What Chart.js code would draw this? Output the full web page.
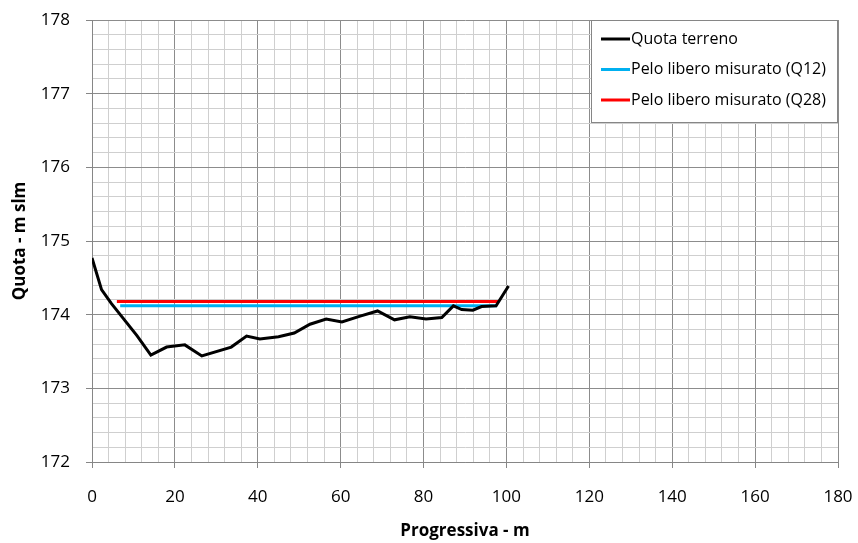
<!DOCTYPE html>
<html>
<head>
<meta charset="utf-8">
<script src="https://cdn.jsdelivr.net/npm/chart.js@4"></script>
<style>
html,body{margin:0;padding:0;background:#fff;}
#box{width:858px;height:543px;}
</style>
</head>
<body>
<div id="box"><canvas id="myChart"></canvas></div>
<script>
// sezione: progressiva (m) e quota terreno (m slm)
var progressiva = [0, 2.3, 4.7, 10.8, 14.2, 18.0, 22.4, 26.5, 33.6, 37.3, 40.5, 45.0, 48.8, 52.6, 56.5, 60.3, 64.7, 68.9, 73.0, 76.7, 80.6, 84.4, 87.2, 89.2, 91.9, 94.0, 97.5, 100.5];
var quota = [174.77, 174.34, 174.15, 173.72, 173.45, 173.56, 173.59, 173.44, 173.56, 173.71, 173.67, 173.70, 173.75, 173.87, 173.94, 173.90, 173.98, 174.05, 173.93, 173.97, 173.94, 173.96, 174.12, 174.07, 174.06, 174.11, 174.12, 174.39];

// pelo libero misurato: estremi e quota
var q12X = [6.8, 97.7];
var q12Y = [174.12, 174.12];
var q28X = [6.0, 98.0];
var q28Y = [174.18, 174.18];

var etichette = ['Quota terreno', 'Pelo libero misurato (Q12)', 'Pelo libero misurato (Q28)'];
var colori = ['#000000', '#00b0f0', '#ff0000'];

function punti(xs, ys){
    var out = [];
    for(var i=0;i<xs.length;i++){ out.push({x:xs[i], y:ys[i]}); }
    return out;
}

function isMultiple(v, step){
    var r = v/step;
    return Math.abs(r - Math.round(r)) < 1e-6;
}

var fontName = "'Open Sans', sans-serif";

// legenda con riquadro dentro l'area del grafico
var boxLegend = {
    id: 'boxLegend',
    afterDatasetsDraw: function(chart){
        var ctx = chart.ctx;
        var a = chart.chartArea;
        var w = 247, h = 102;
        var x0 = a.right - w, y0 = a.top;
        ctx.save();
        ctx.fillStyle = '#ffffff';
        ctx.fillRect(x0, y0, w, h);
        ctx.strokeStyle = '#868686';
        ctx.lineWidth = 1;
        ctx.strokeRect(x0 + 0.5, y0 + 0.5, w - 1, h);
        ctx.font = '16px ' + fontName;
        ctx.textBaseline = 'middle';
        ctx.fillStyle = '#000';
        for(var i=0;i<etichette.length;i++){
            var yy = y0 + 19 + i*30.5;
            ctx.strokeStyle = colori[i];
            ctx.lineWidth = 3;
            ctx.beginPath();
            ctx.moveTo(x0 + 10, yy);
            ctx.lineTo(x0 + 39, yy);
            ctx.stroke();
            ctx.fillText(etichette[i], x0 + 40, yy);
        }
        ctx.restore();
    }
};

new Chart('myChart', {
    type: 'line',
    data: {
        datasets: [{
            label: etichette[0],
            data: punti(progressiva, quota),
            borderColor: colori[0],
            borderWidth: 3,
            pointRadius: 0,
            tension: 0
        }, {
            label: etichette[1],
            data: punti(q12X, q12Y),
            borderColor: colori[1],
            borderWidth: 3,
            pointRadius: 0
        }, {
            label: etichette[2],
            data: punti(q28X, q28Y),
            borderColor: colori[2],
            borderWidth: 3,
            pointRadius: 0
        }]
    },
    options: {
        responsive: true,
        maintainAspectRatio: false,
        animation: false,
        layout: { padding: { top: 20, right: 20, left: 0, bottom: 0 } },
        plugins: {
            legend: { display: false },
            tooltip: { enabled: false }
        },
        scales: {
            x: {
                type: 'linear',
                min: 0, max: 180,
                afterFit: function(scale){
                    scale.height = 81;
                    scale.paddingLeft = 0;
                    scale.paddingRight = 0;
                },
                ticks: {
                    stepSize: 4,
                    autoSkip: false,
                    maxRotation: 0,
                    color: '#000',
                    padding: 19,
                    font: { family: fontName, size: 17 },
                    callback: function(v){ return isMultiple(v, 20) ? String(v) : ''; }
                },
                grid: {
                    color: function(c){ return isMultiple(c.tick.value, 20) ? '#8c8c8c' : '#cfcfcf'; },
                    tickColor: function(c){ return isMultiple(c.tick.value, 20) ? '#868686' : 'rgba(0,0,0,0)'; },
                    tickLength: 6,
                    lineWidth: 1
                },
                border: { color: '#868686', width: 1 },
                title: {
                    display: true,
                    text: 'Progressiva - m',
                    color: '#000',
                    font: { family: fontName, size: 17, weight: 'bold' },
                    padding: { top: 4, bottom: 2 }
                }
            },
            y: {
                type: 'linear',
                min: 172, max: 178,
                afterFit: function(scale){
                    scale.width = 92;
                    scale.paddingTop = 0;
                    scale.paddingBottom = 0;
                },
                ticks: {
                    stepSize: 0.2,
                    autoSkip: false,
                    color: '#000',
                    padding: 16,
                    font: { family: fontName, size: 17 },
                    callback: function(v){ return isMultiple(v, 1) ? String(Math.round(v)) : ''; }
                },
                grid: {
                    color: function(c){ return isMultiple(c.tick.value, 1) ? '#8c8c8c' : '#cfcfcf'; },
                    tickColor: function(c){ return isMultiple(c.tick.value, 1) ? '#868686' : 'rgba(0,0,0,0)'; },
                    tickLength: 6,
                    lineWidth: 1
                },
                border: { color: '#868686', width: 1 },
                title: {
                    display: true,
                    text: 'Quota - m slm',
                    color: '#000',
                    font: { family: fontName, size: 17, weight: 'bold' },
                    padding: { top: 10, bottom: 4 }
                }
            }
        }
    },
    plugins: [boxLegend]
});
</script>
</body>
</html>
